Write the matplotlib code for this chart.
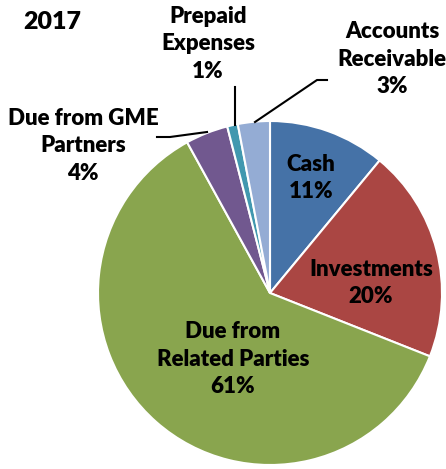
import matplotlib
matplotlib.use("Agg")
import matplotlib.pyplot as plt

categories = ["Cash", "Investments", "Due from\nRelated Parties", "Due from GME\nPartners",
              "Prepaid\nExpenses", "Accounts\nReceivable"]
values = [11, 20, 61, 4, 1, 3]
colors = ["#4572A7", "#AA4643", "#89A54E", "#71588F", "#4198AF", "#94ACD4"]
title = "2017"

W, H = 446, 469
fig = plt.figure(figsize=(W / 100, H / 100), dpi=100)
ax = fig.add_axes([0, 0, 1, 1])

cx, cy, r = 270, 293, 172
wedges, _ = ax.pie(values, colors=colors, startangle=-90, counterclock=True,
                   center=(cx, cy), radius=r, frame=True,
                   wedgeprops=dict(edgecolor="white", linewidth=1.5))
ax.set_xlim(0, W)
ax.set_ylim(H, 0)
ax.set_aspect("equal")
ax.axis("off")

font = dict(family=["Lato", "DejaVu Sans"], fontweight="heavy", fontsize=16,
            ha="center", va="center", linespacing=1.4)
label_pos = [(311, 178), (371, 283), (233, 359), (83, 146), (208, 44), (392, 59)]
for cat, v, (x, y) in zip(categories, values, label_pos):
    ax.text(x, y, f"{cat}\n{v}%", **font)

ax.text(52, 22, title, **{**font, "fontsize": 18})

lines = [
    [(157, 137), (170, 137), (207, 132)],
    [(235, 87), (235, 125)],
    [(327, 80), (317, 80), (255, 122)],
]
for pts in lines:
    xs, ys = zip(*pts)
    ax.plot(xs, ys, color="black", lw=1.5)

fig.savefig("out.png", dpi=100)
